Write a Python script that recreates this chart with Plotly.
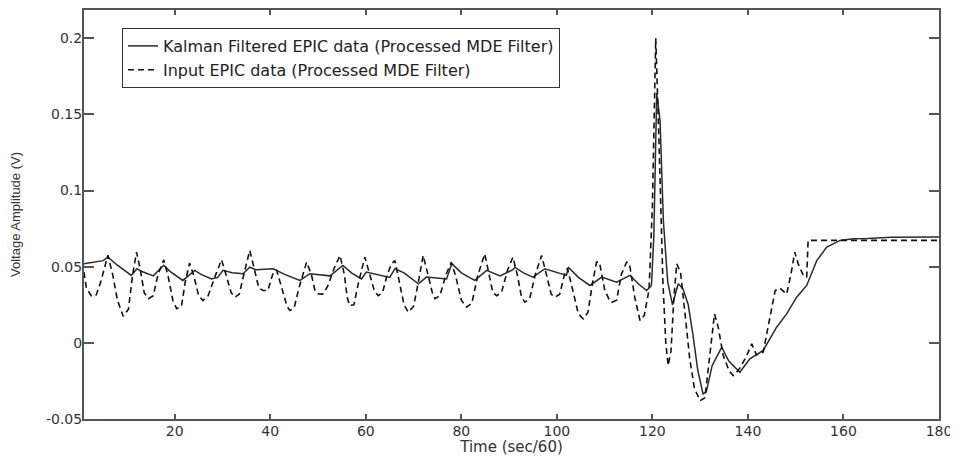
import plotly.graph_objects as go

# ---- data ----
kalman_x = [1, 3, 5, 6, 8, 10.9, 12.1, 13, 15.5, 17.7, 19, 21.7, 24.2, 25.5, 27.7, 29, 30.1, 32, 34.3, 35.7,
            37, 40.6, 43, 46.2, 48.3, 52.5, 55.2, 57, 59.1, 60.1, 62, 65.0, 66.1, 68, 71.0, 72.7, 76.9, 78,
            80, 82.8, 85.3, 88.1, 90.8, 91.2, 93, 95, 97.5, 100, 102, 102.4, 104.5, 106.9, 109.4, 112.5,
            115.3, 117, 118.8, 119.8, 120.3, 120.9, 121.6, 122.3, 123.2, 124.2, 125.4, 126.4, 127.5, 128.5,
            129.5, 130.6, 131.3, 132.5, 134.5, 136, 138.3, 140.4, 143.2, 146, 148.1, 150.2, 152.3, 154.4,
            156.5, 159.3, 162, 165, 170, 180]
kalman_y = [0.052, 0.053, 0.054, 0.0563, 0.051, 0.0443, 0.0487, 0.047, 0.044, 0.051, 0.047, 0.041, 0.0476,
            0.045, 0.042, 0.043, 0.0476, 0.046, 0.0454, 0.0497, 0.048, 0.0487, 0.045, 0.041, 0.0454, 0.044,
            0.0509, 0.046, 0.042, 0.0465, 0.045, 0.043, 0.0487, 0.046, 0.0388, 0.0432, 0.042, 0.052, 0.046,
            0.041, 0.0476, 0.044, 0.048, 0.0497, 0.046, 0.0432, 0.0487, 0.046, 0.0443, 0.0497, 0.043, 0.0377,
            0.0432, 0.0399, 0.0443, 0.039, 0.0344, 0.0377, 0.07, 0.164, 0.146, 0.08, 0.04, 0.025, 0.0388,
            0.0355, 0.025, 0.005, -0.018, -0.0336, -0.032, -0.015, -0.0029, -0.012, -0.0193, -0.0105, -0.005,
            0.0103, 0.019, 0.03, 0.0377, 0.054, 0.0629, 0.0673, 0.0684, 0.0686, 0.0693, 0.0695]

input_x = [1, 1.5, 2.5, 3.5, 4.5, 6, 7, 8, 9.2, 10.3, 11.2, 12, 12.8, 13.6, 14.5, 15.5, 16.5, 17.7, 18.6,
           19.6, 20.4, 21.4, 22.2, 23.1, 24, 25, 25.9, 27, 28.6, 29.8, 30.8, 31.8, 32.6, 33.5, 34.7, 35.7,
           36.7, 37.6, 38.5, 39.5, 40.5, 41.3, 42.5, 43.5, 44.1, 45, 46, 47.6, 48.6, 49.3, 50, 51, 52, 53.5,
           54.6, 55.5, 56.1, 56.6, 57.5, 58.5, 59.8, 60.8, 61.8, 62.6, 63.5, 64.5, 65.4, 66.1, 67, 68, 68.9,
           70, 71, 72, 73, 74, 74.5, 75.5, 76.8, 77.9, 78.8, 80, 81.1, 82.2, 83.5, 84.9, 85.8, 86.6, 87.4,
           88.4, 89.7, 90.8, 91.7, 92.6, 93.3, 94.3, 95.5, 96.8, 97.8, 98.8, 99.6, 100.6, 101.6, 102.2,
           103.3, 104.5, 105.5, 106.5, 107.5, 108.3, 108.9, 110, 111, 111.5, 112.5, 113.5, 114.6, 115.2,
           116.3, 117.4, 118.3, 119.3, 120.0, 120.7, 121.4, 122.2, 122.8, 123.3, 123.9, 124.5, 125.1, 125.9,
           126.8, 127.8, 128.8, 130.0, 131.0, 132.0, 133.0, 133.8, 134.8, 136, 136.9, 138, 139.5, 140.8,
           141.8, 143.2, 144.5, 145.7, 146.7, 148.1, 149, 149.8, 150.5, 151.5, 152.3, 152.6, 160, 170, 180]
input_y = [0.0465, 0.036, 0.031, 0.031, 0.04, 0.0575, 0.045, 0.028, 0.0175, 0.022, 0.045, 0.0596, 0.048,
           0.033, 0.029, 0.031, 0.045, 0.0545, 0.044, 0.028, 0.0224, 0.024, 0.04, 0.0524, 0.044, 0.031,
           0.0278, 0.031, 0.045, 0.0546, 0.044, 0.033, 0.030, 0.032, 0.048, 0.0607, 0.048, 0.036, 0.0344,
           0.0344, 0.045, 0.048, 0.035, 0.024, 0.0213, 0.023, 0.036, 0.053, 0.045, 0.035, 0.0322, 0.032,
           0.037, 0.05, 0.0574, 0.045, 0.03, 0.0245, 0.025, 0.04, 0.0563, 0.045, 0.034, 0.031, 0.033, 0.045,
           0.052, 0.054, 0.04, 0.025, 0.0201, 0.024, 0.04, 0.0574, 0.045, 0.032, 0.029, 0.031, 0.045, 0.053,
           0.044, 0.028, 0.0234, 0.026, 0.045, 0.0585, 0.045, 0.033, 0.031, 0.033, 0.048, 0.0563, 0.045,
           0.03, 0.0267, 0.029, 0.045, 0.0574, 0.045, 0.032, 0.030, 0.032, 0.045, 0.049, 0.035, 0.019,
           0.0158, 0.02, 0.04, 0.053, 0.053, 0.035, 0.028, 0.0267, 0.028, 0.045, 0.053, 0.052, 0.03, 0.0147,
           0.018, 0.035, 0.09, 0.2, 0.13, 0.04, 0.0, -0.0149, -0.005, 0.03, 0.052, 0.046, 0.02, -0.01,
           -0.03, -0.038, -0.036, -0.01, 0.019, 0.01, -0.008, -0.018, -0.0215, -0.018, -0.01, -0.0007,
           -0.008, -0.006, 0.015, 0.0344, 0.036, 0.032, 0.045, 0.0596, 0.052, 0.045, 0.043, 0.0673, 0.0673,
           0.0673, 0.0673]

series_names = ["Kalman Filtered EPIC data (Processed MDE Filter)",
                "Input EPIC data (Processed MDE Filter)"]
x_ticks = [20, 40, 60, 80, 100, 120, 140, 160, 180]
x_tick_labels = ["20", "40", "60", "80", "100", "120", "140", "160", "180"]
y_ticks = [-0.05, 0, 0.05, 0.1, 0.15, 0.2]
y_tick_labels = ["-0.05", "0", "0.05", "0.1", "0.15", "0.2"]
x_title = "Time (sec/60)"
y_title = "Voltage Amplitude (V)"

# ---- figure ----
fig = go.Figure()
fig.add_trace(go.Scatter(x=kalman_x, y=kalman_y, mode="lines", name=series_names[0],
                         line=dict(color="#2a2a2a", width=1.5)))
fig.add_trace(go.Scatter(x=input_x, y=input_y, mode="lines", name=series_names[1],
                         line=dict(color="#111111", width=1.6, dash="6px,4px")))

axis_common = dict(showline=True, linecolor="#555555", linewidth=2, mirror="allticks",
                   ticks="inside", tickcolor="#555555", tickwidth=1.5,
                   showgrid=False, zeroline=False, automargin=False,
                   tickfont=dict(family="DejaVu Sans", size=14, color="#333333"))

fig.update_xaxes(range=[1, 180], tickvals=x_ticks, ticktext=x_tick_labels, ticklen=5,
                 ticklabelstandoff=-2,
                 title=dict(text=x_title, font=dict(family="DejaVu Sans", size=15, color="#333333"),
                            standoff=6),
                 **axis_common)
fig.update_yaxes(range=[-0.05, 0.2186], tickvals=y_ticks, ticktext=y_tick_labels, ticklen=10,
                 ticklabelstandoff=-3,
                 title=dict(text=y_title, font=dict(family="Liberation Sans", size=13, color="#333333"),
                            standoff=24),
                 **axis_common)

# the page body adds an 8px offset, so the figure is sized 950x448 to land on the same pixels
fig.update_layout(
    width=950, height=448,
    margin=dict(l=76, r=19, t=2, b=37),
    paper_bgcolor="white", plot_bgcolor="white",
    showlegend=True,
    legend=dict(x=0.0444, y=0.956, xanchor="left", yanchor="top",
                bgcolor="white", bordercolor="#333333", borderwidth=1,
                font=dict(family="DejaVu Sans", size=16, color="#222222"),
                tracegroupgap=0, itemwidth=30),
)

fig.write_html("out.html")
